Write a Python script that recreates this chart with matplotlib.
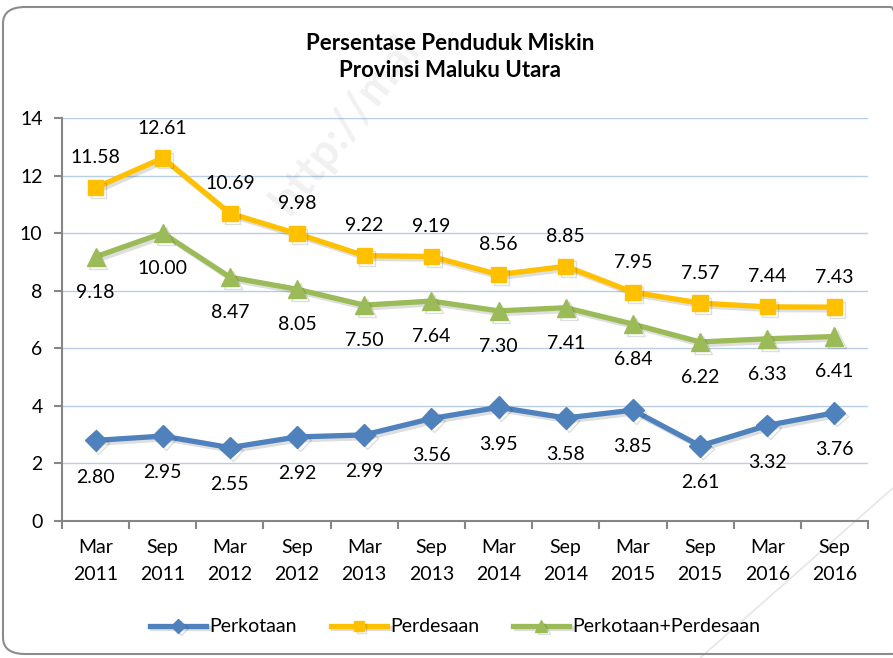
import matplotlib
matplotlib.use("Agg")
import matplotlib.pyplot as plt
import matplotlib.patheffects as pe
from matplotlib.patches import FancyBboxPatch
import numpy as np

categories = ["Mar\n2011", "Sep\n2011", "Mar\n2012", "Sep\n2012", "Mar\n2013", "Sep\n2013",
              "Mar\n2014", "Sep\n2014", "Mar\n2015", "Sep\n2015", "Mar\n2016", "Sep\n2016"]
perkotaan = [2.80, 2.95, 2.55, 2.92, 2.99, 3.56, 3.95, 3.58, 3.85, 2.61, 3.32, 3.76]
perdesaan = [11.58, 12.61, 10.69, 9.98, 9.22, 9.19, 8.56, 8.85, 7.95, 7.57, 7.44, 7.43]
gabungan = [9.18, 10.00, 8.47, 8.05, 7.50, 7.64, 7.30, 7.41, 6.84, 6.22, 6.33, 6.41]
series_names = ["Perkotaan", "Perdesaan", "Perkotaan+Perdesaan"]
yticks = [0, 2, 4, 6, 8, 10, 12, 14]
title = "Persentase Penduduk Miskin\nProvinsi Maluku Utara"

FONT = "Lato"
plt.rcParams["font.family"] = [FONT, "DejaVu Sans"]

fig = plt.figure(figsize=(8.93, 6.58), dpi=100)
fig.patch.set_facecolor("white")

# rounded frame
frame = FancyBboxPatch((3 / 893, 4 / 658), 910 / 893, 647 / 658,
                       boxstyle="round,pad=0,rounding_size=0.025",
                       transform=fig.transFigure, facecolor="none",
                       edgecolor="#8c8c8c", linewidth=1.5, zorder=0)
fig.patches.append(frame)

# faint diagonal line at bottom right
fig.add_artist(plt.Line2D([700 / 893, 893 / 893], [0, 170 / 658], transform=fig.transFigure,
                          color="#e6e6e6", lw=1.2, zorder=0))

# watermark
fig.text(345 / 893, 1 - 125 / 658, "http://mal", rotation=52, fontsize=33,
         fontweight="bold", color="#000000", alpha=0.06, ha="center", va="center",
         zorder=0)

ax = fig.add_axes([62 / 893, 1 - 521 / 658, (868 - 62) / 893, (521 - 118) / 658])
ax.set_facecolor("none")

x = np.arange(len(categories))
blue, yellow, green = "#4F81BD", "#FFC000", "#9BBB59"
shadow = [pe.SimpleLineShadow(offset=(2, -2), alpha=0.13, shadow_color="black"), pe.Normal()]

l1, = ax.plot(x, perkotaan, color=blue, lw=3.8, marker="D", markersize=11,
              label=series_names[0], path_effects=shadow, zorder=4)
l2, = ax.plot(x, perdesaan, color=yellow, lw=3.8, marker="s", markersize=11,
              label=series_names[1], path_effects=shadow, zorder=4)
l3, = ax.plot(x, gabungan, color=green, lw=3.8, marker="^", markersize=13,
              label=series_names[2], path_effects=shadow, zorder=4)

lab_fs = 14
for xi, v in zip(x, perdesaan):
    ax.annotate(f"{v:.2f}", (xi, v), xytext=(0, 21.5), textcoords="offset points",
                ha="center", va="center", fontsize=lab_fs, color="black")
for xi, v in zip(x, gabungan):
    ax.annotate(f"{v:.2f}", (xi, v), xytext=(0, -25.5), textcoords="offset points",
                ha="center", va="center", fontsize=lab_fs, color="black")
for xi, v in zip(x, perkotaan):
    ax.annotate(f"{v:.2f}", (xi, v), xytext=(0, -26.5), textcoords="offset points",
                ha="center", va="center", fontsize=lab_fs, color="black")

ax.set_xlim(-0.5, len(categories) - 0.5)
ax.set_ylim(0, 14)
ax.set_yticks(yticks)
ax.set_yticklabels([str(t) for t in yticks], fontsize=14)
ax.set_xticks(x)
ax.set_xticklabels(categories, fontsize=14, linespacing=1.7)
ax.set_xticks(np.arange(len(categories) + 1) - 0.5, minor=True)
ax.tick_params(axis="x", which="major", length=0, pad=13)
ax.tick_params(axis="x", which="minor", length=6, color="#868686", width=1.5, direction="out")
ax.tick_params(axis="y", length=6, color="#868686", width=1.5, direction="out", pad=8)

ax.grid(axis="y", color="#B9CDE5", lw=1.0)
ax.set_axisbelow(True)
for s in ["top", "right"]:
    ax.spines[s].set_visible(False)
for s in ["left", "bottom"]:
    ax.spines[s].set_color("#868686")
    ax.spines[s].set_linewidth(1.5)

fig.text(450 / 893, 1 - 57 / 658, title, ha="center", va="center", fontsize=16,
         fontweight="bold", linespacing=1.4)

leg = fig.legend(handles=[l1, l2, l3], loc="center", bbox_to_anchor=(455 / 893, 1 - 627 / 658),
                 ncol=3, frameon=False, fontsize=14, handlelength=2.9, handletextpad=0.15,
                 columnspacing=1.75, markerscale=0.65)

fig.savefig("out.png", dpi=100, facecolor="white")
